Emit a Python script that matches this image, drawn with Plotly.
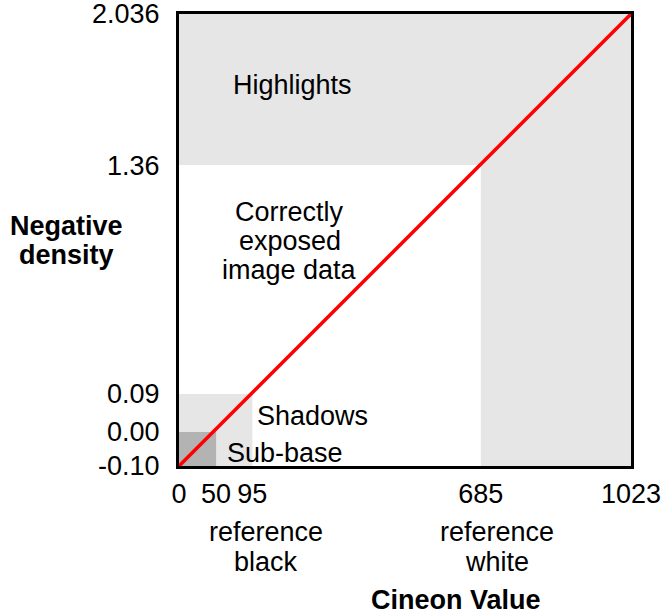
import plotly.graph_objects as go

# Schematic (non-linear) diagram: display positions on a 0..1023 scale
x_tick_pos = [0, 84, 166, 683, 1023]
x_tick_labels = ["0", "50", "95", "685", "1023"]
y_tick_pos = [0, 77, 163, 681, 1023]
y_tick_labels = ["-0.10", "0.00", "0.09", "1.36", "2.036"]

# Transfer line (code value -> density), drawn corner to corner
line_x = [0, 1023]
line_y = [0, 1023]

# Regions: (name, x0, x1, y0, y1, colour)
regions = [
    ("highlights_band", 0, 1023, 681, 1023, "#e6e6e6"),
    ("white_column", 683, 1023, 0, 1023, "#e6e6e6"),
    ("shadows", 0, 166, 0, 163, "#e6e6e6"),
    ("sub_base", 0, 84, 0, 77, "#b3b3b3"),
]

FONT = "Liberation Sans, Arial, sans-serif"
FS = 27

fig = go.Figure()
fig.add_trace(go.Scatter(x=line_x, y=line_y, mode="lines",
                         line=dict(color="#ff0000", width=3.5),
                         hoverinfo="skip", showlegend=False))

for name, x0, x1, y0, y1, col in regions:
    fig.add_shape(type="rect", xref="x", yref="y", x0=x0, x1=x1, y0=y0, y1=y1,
                  fillcolor=col, line=dict(width=0), layer="below")

ann = [
    dict(x=256, y=862, text="Highlights", xref="x", yref="y"),
    dict(x=251, y=574, text="Correctly", xref="x", yref="y"),
    dict(x=251, y=509, text="exposed", xref="x", yref="y"),
    dict(x=251, y=444, text="image data", xref="x", yref="y"),
    dict(x=303, y=113, text="Shadows", xref="x", yref="y"),
    dict(x=240, y=29, text="Sub-base", xref="x", yref="y"),
    dict(x=198, y=-0.146, text="reference", xref="x", yref="paper"),
    dict(x=198, y=-0.212, text="black", xref="x", yref="paper"),
    dict(x=719, y=-0.146, text="reference", xref="x", yref="paper"),
    dict(x=719, y=-0.212, text="white", xref="x", yref="paper"),
    dict(x=626, y=-0.297, text="<b>Cineon Value</b>", xref="x", yref="paper"),
    dict(x=-0.248, y=0.532, text="<b>Negative</b>", xref="paper", yref="paper"),
    dict(x=-0.248, y=0.466, text="<b>density</b>", xref="paper", yref="paper"),
]
for a in ann:
    a.update(showarrow=False, xanchor="center", yanchor="middle",
             font=dict(family=FONT, size=FS, color="#000000"))
    fig.add_annotation(**a)

fig.update_layout(
    width=662, height=616,
    margin=dict(l=179, r=31, t=14, b=150, autoexpand=False),
    paper_bgcolor="white", plot_bgcolor="white",
    font=dict(family=FONT, size=FS, color="#000000"),
    showlegend=False,
)
fig.update_xaxes(range=[0, 1023], tickvals=x_tick_pos, ticktext=x_tick_labels,
                 showgrid=False, zeroline=False, showline=True, mirror=True,
                 linecolor="#000000", linewidth=3, ticks="", ticklabelstandoff=2,
                 ticklabeloverflow="allow",
                 automargin=False, tickfont=dict(family=FONT, size=FS))
fig.update_yaxes(range=[0, 1023], tickvals=y_tick_pos, ticktext=y_tick_labels,
                 showgrid=False, zeroline=False, showline=True, mirror=True,
                 linecolor="#000000", linewidth=3, ticks="", ticklabelstandoff=11,
                 ticklabeloverflow="allow",
                 automargin=False, tickfont=dict(family=FONT, size=FS))

fig.write_html("out.html",
               config={"displayModeBar": False},
               post_script="document.body.style.margin='0';"
                           "document.body.style.overflow='hidden';")
